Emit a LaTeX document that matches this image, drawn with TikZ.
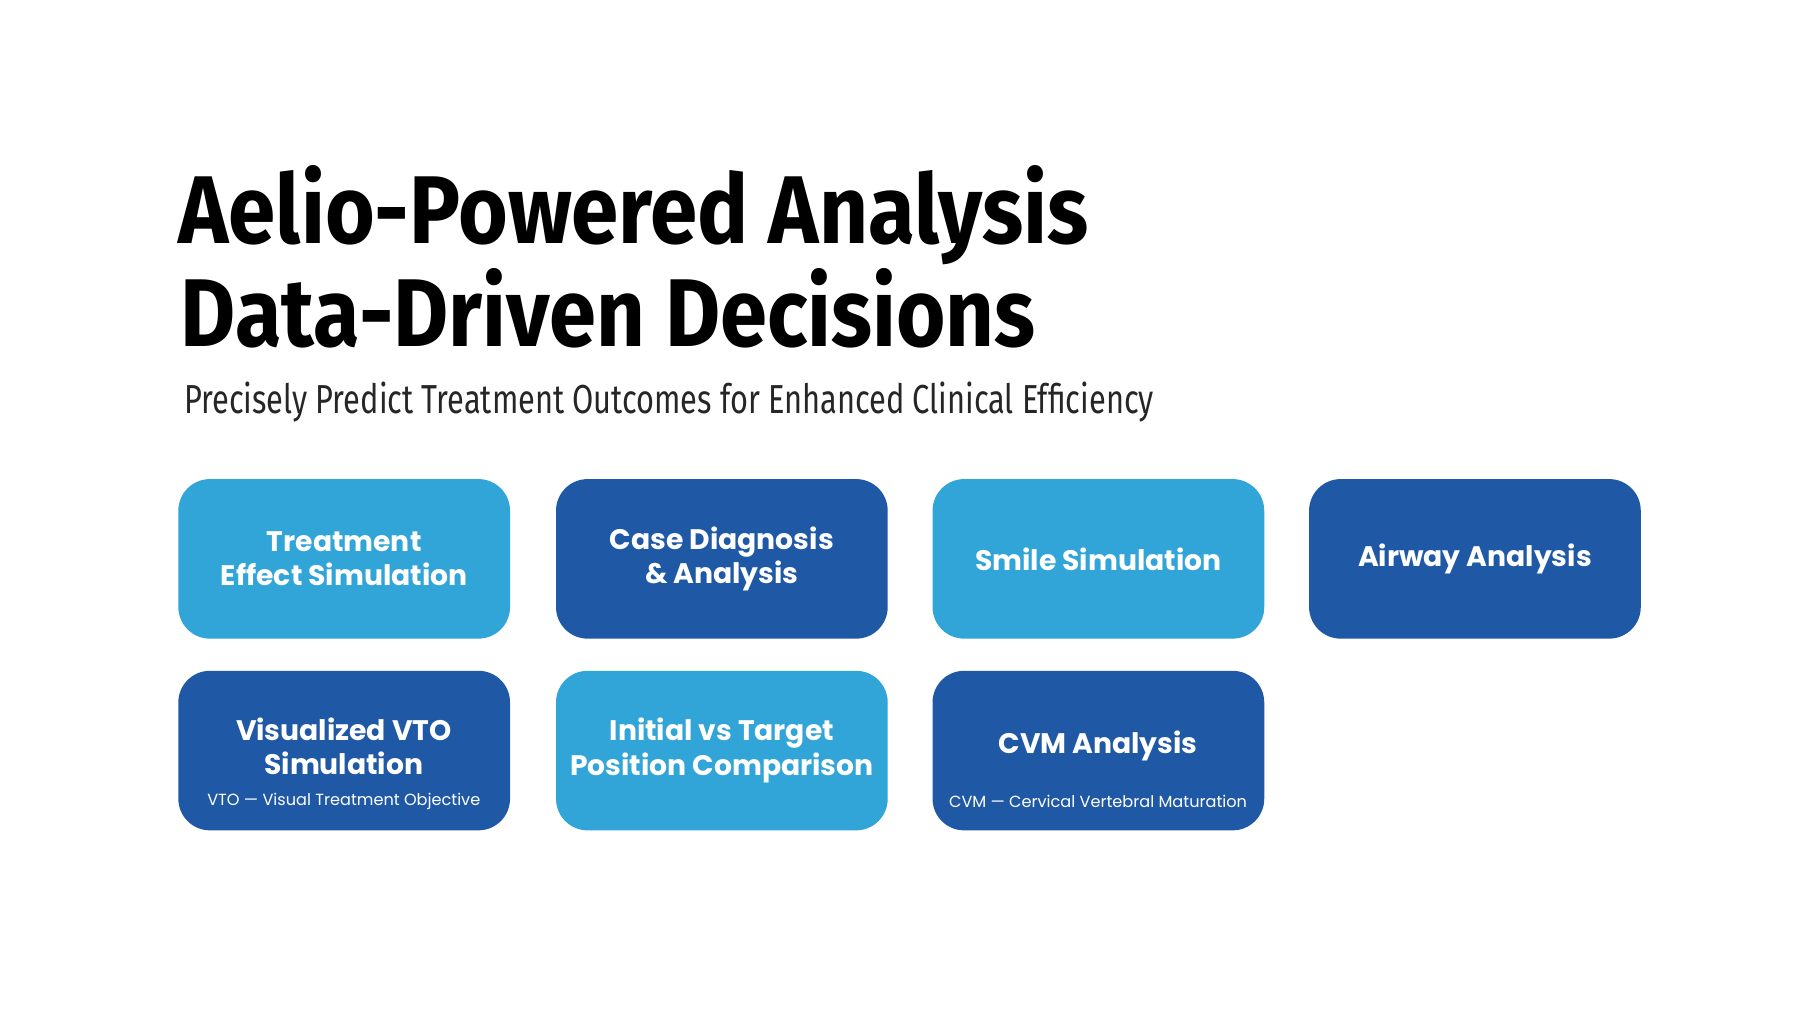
\documentclass[tikz,border=0pt]{standalone}
\usepackage{fontspec}
\setmainfont{Fira Sans}
\newfontfamily\pop{Poppins}
\newfontfamily\tit{Fira Sans}
\definecolor{lb}{HTML}{31A4D8}
\definecolor{db}{HTML}{1F59A5}
\begin{document}
\begin{tikzpicture}[x=0.02cm,y=-0.02cm,
 card/.style={rounded corners=0.55cm,inner sep=0pt,minimum width=5.78cm,minimum height=2.78cm,anchor=north west,text=white,align=center,font=\pop\bfseries\fontsize{14}{17}\selectfont},
 sub/.style={text=white,font=\pop\fontsize{8}{10}\selectfont}]
\useasboundingbox[fill=white] (0,0) rectangle (1568,884);
\node[anchor=base west,inner sep=0pt] (t1) at (155,212) {\resizebox{15.86cm}{1.36cm}{\tit\bfseries Aelio-Powered Analysis}};
\node[anchor=base west,inner sep=0pt] (t2) at (157,302) {\resizebox{14.9cm}{1.36cm}{\tit\bfseries Data-Driven Decisions}};
\node[anchor=base west,inner sep=0pt,text=black!85] (st) at (160,360) {\resizebox{16.9cm}{0.55cm}{\tit\fontseries{l}\selectfont Precisely Predict Treatment Outcomes for Enhanced Clinical Efficiency}};
\node[card,fill=lb] (c1) at (155,417) {Treatment\\Effect Simulation};
\node[card,fill=db] (c2) at (484,417) {Case Diagnosis\\\& Analysis};
\node[card,fill=lb] (c3) at (812,417) {Smile Simulation};
\node[card,fill=db] (c4) at (1140,417) {Airway Analysis};
\node[card,fill=db] (c5) at (155,584) {};
\node[card,fill=lb] (c6) at (484,584) {Initial vs Target\\Position Comparison};
\node[card,fill=db] (c7) at (812,584) {};
\node[card,draw=none,anchor=center,minimum height=0pt] (c5t) at (299.5,650) {Visualized VTO\\Simulation};
\node[sub] (c5s) at (299.5,698) {VTO — Visual Treatment Objective};
\node[card,draw=none,anchor=center,minimum height=0pt] (c7t) at (956.5,650) {CVM Analysis};
\node[sub] (c7s) at (956.5,698) {CVM — Cervical Vertebral Maturation};
\end{tikzpicture}
\end{document}
